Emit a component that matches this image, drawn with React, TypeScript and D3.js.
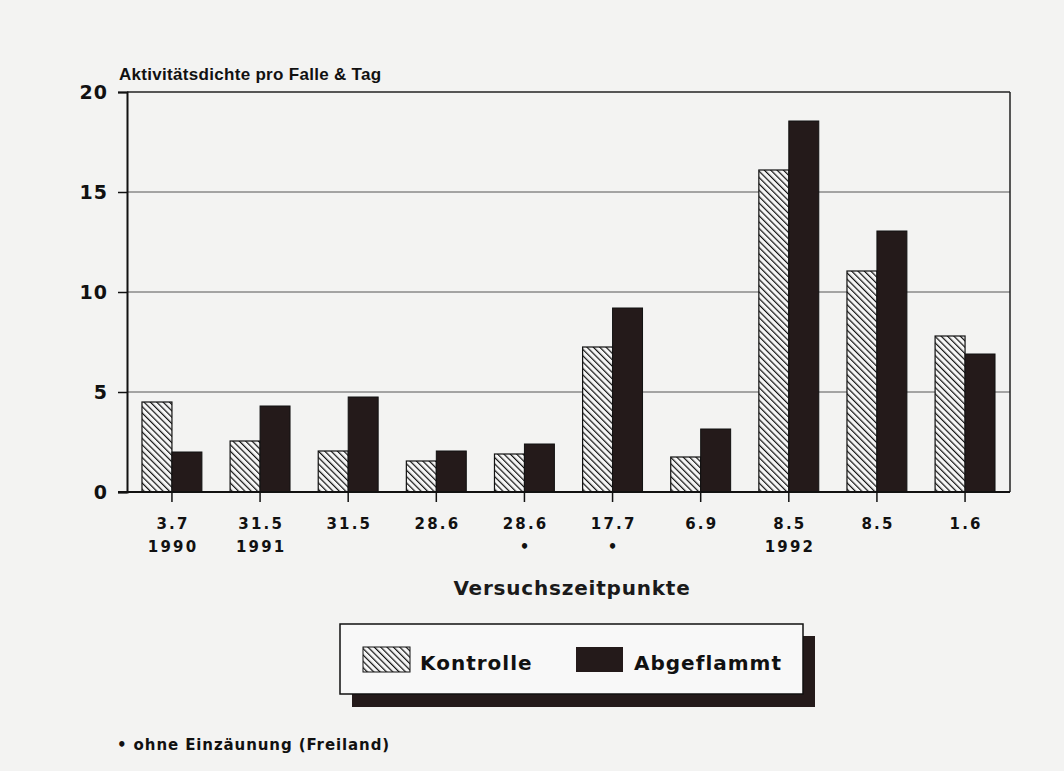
import { useRef, useEffect } from 'react';
import * as d3 from 'd3';

const dates = ['3.7', '31.5', '31.5', '28.6', '28.6', '17.7', '6.9', '8.5', '8.5', '1.6'];
const subLabels = ['1990', '1991', '', '', '•', '•', '', '1992', '', ''];
const kontrolle = [4.5, 2.55, 2.05, 1.55, 1.9, 7.25, 1.75, 16.1, 11.05, 7.8];
const abgeflammt = [2.0, 4.3, 4.75, 2.05, 2.4, 9.2, 3.15, 18.55, 13.05, 6.9];
const yTicks = [0, 5, 10, 15, 20];

const W = 1064;
const H = 771;
const DARK = '#241a1a';
const FONT = '"Liberation Sans", Arial, sans-serif';
const WIDE = '"DejaVu Sans", Verdana, sans-serif';

export default function App() {
  const svgRef = useRef<SVGSVGElement>(null);

  useEffect(() => {
    document.body.style.margin = '0';
    if (!svgRef.current) return;
    const svg = d3.select(svgRef.current);
    svg.selectAll('*').remove();

    const left = 127, right = 1010, top = 92, bottom = 492;

    const x = d3.scaleBand<number>()
      .domain(d3.range(dates.length))
      .range([left, right])
      .paddingInner(0.32)
      .paddingOuter(0.17);
    const y = d3.scaleLinear().domain([0, 20]).range([bottom, top]);
    const sub = d3.scaleBand<string>().domain(['k', 'a']).range([0, x.bandwidth()]);

    svg.append('rect').attr('width', W).attr('height', H).attr('fill', '#f3f3f2');

    const defs = svg.append('defs');
    const pat = defs.append('pattern')
      .attr('id', 'hatch')
      .attr('patternUnits', 'userSpaceOnUse')
      .attr('width', 4.5)
      .attr('height', 4.5)
      .attr('patternTransform', 'rotate(-45)');
    pat.append('rect').attr('width', 4.5).attr('height', 4.5).attr('fill', '#f6f6f6');
    pat.append('line')
      .attr('x1', 0).attr('y1', 0).attr('x2', 0).attr('y2', 4.5)
      .attr('stroke', '#111').attr('stroke-width', 2.4);

    // title
    svg.append('text')
      .attr('x', 119).attr('y', 80)
      .attr('font-family', FONT).attr('font-weight', 'bold').attr('font-size', 17)
      .attr('letter-spacing', 0.3)
      .attr('fill', '#111')
      .text('Aktivitätsdichte pro Falle & Tag');

    // gridlines
    svg.append('g')
      .selectAll('line')
      .data(yTicks.filter((t) => t > 0 && t < 20))
      .join('line')
      .attr('x1', left).attr('x2', right)
      .attr('y1', (d) => y(d)).attr('y2', (d) => y(d))
      .attr('stroke', '#555').attr('stroke-width', 1);

    // frame top/right
    svg.append('line').attr('x1', left).attr('x2', right).attr('y1', top).attr('y2', top)
      .attr('stroke', '#222').attr('stroke-width', 1.5);
    svg.append('line').attr('x1', right).attr('x2', right).attr('y1', top).attr('y2', bottom)
      .attr('stroke', '#222').attr('stroke-width', 1.5);

    // y axis
    const yAxis = svg.append('g')
      .attr('transform', `translate(${left},0)`)
      .call(d3.axisLeft(y).tickValues(yTicks).tickSize(9).tickPadding(10).tickFormat(d3.format('d')));
    yAxis.select('.domain').attr('stroke', '#111').attr('stroke-width', 2);
    yAxis.selectAll('line').attr('stroke', '#111').attr('stroke-width', 1.5);
    yAxis.selectAll('text')
      .attr('font-family', WIDE).attr('font-weight', 'bold').attr('font-size', 19)
      .attr('letter-spacing', 1).attr('fill', '#111');

    // bars
    const groups = svg.append('g')
      .selectAll('g')
      .data(dates.map((_, i) => i))
      .join('g')
      .attr('transform', (i) => `translate(${x(i)},0)`);
    groups.append('rect')
      .attr('x', sub('k')!)
      .attr('y', (i) => y(kontrolle[i]))
      .attr('width', sub.bandwidth())
      .attr('height', (i) => bottom - y(kontrolle[i]))
      .attr('fill', 'url(#hatch)')
      .attr('stroke', '#111').attr('stroke-width', 1.2);
    groups.append('rect')
      .attr('x', sub('a')!)
      .attr('y', (i) => y(abgeflammt[i]))
      .attr('width', sub.bandwidth())
      .attr('height', (i) => bottom - y(abgeflammt[i]))
      .attr('fill', DARK)
      .attr('stroke', '#111').attr('stroke-width', 1);

    // x axis
    const xAxis = svg.append('g')
      .attr('transform', `translate(0,${bottom})`)
      .call(d3.axisBottom(x).tickSize(10).tickFormat(() => ''));
    xAxis.select('.domain').attr('stroke', '#111').attr('stroke-width', 2)
      .attr('d', `M${left - 9},0H${right}`);
    xAxis.selectAll('line').attr('stroke', '#111').attr('stroke-width', 1.5);

    const labels = svg.append('g')
      .attr('font-family', WIDE).attr('font-weight', 'bold').attr('font-size', 15)
      .attr('letter-spacing', 2.2)
      .attr('fill', '#111').attr('text-anchor', 'middle');
    labels.selectAll('text.d')
      .data(dates)
      .join('text')
      .attr('class', 'd')
      .attr('x', (_, i) => x(i)! + x.bandwidth() / 2 + 1.1)
      .attr('y', 529)
      .text((d) => d);
    labels.selectAll('text.s')
      .data(subLabels)
      .join('text')
      .attr('class', 's')
      .attr('x', (_, i) => x(i)! + x.bandwidth() / 2 + 1.1)
      .attr('y', 552)
      .text((d) => d);

    svg.append('text')
      .attr('x', 572).attr('y', 595)
      .attr('text-anchor', 'middle')
      .attr('font-family', WIDE).attr('font-weight', 'bold').attr('font-size', 20)
      .attr('letter-spacing', 0.8)
      .attr('fill', '#1a1a1a')
      .text('Versuchszeitpunkte');

    // legend
    const lg = svg.append('g');
    lg.append('rect').attr('x', 352).attr('y', 636).attr('width', 463).attr('height', 71).attr('fill', DARK);
    lg.append('rect').attr('x', 340).attr('y', 624).attr('width', 463).attr('height', 70)
      .attr('fill', '#f8f8f8').attr('stroke', '#111').attr('stroke-width', 1.5);
    lg.append('rect').attr('x', 363).attr('y', 647).attr('width', 47).attr('height', 25)
      .attr('fill', 'url(#hatch)').attr('stroke', '#111').attr('stroke-width', 1);
    lg.append('text').attr('x', 420).attr('y', 670)
      .attr('font-family', WIDE).attr('font-weight', 'bold').attr('font-size', 20)
      .attr('letter-spacing', 1).attr('fill', '#111').text('Kontrolle');
    lg.append('rect').attr('x', 576).attr('y', 647).attr('width', 47).attr('height', 25).attr('fill', DARK);
    lg.append('text').attr('x', 634).attr('y', 670)
      .attr('font-family', WIDE).attr('font-weight', 'bold').attr('font-size', 20)
      .attr('letter-spacing', 1).attr('fill', '#111').text('Abgeflammt');

    // footnote
    svg.append('text')
      .attr('x', 117).attr('y', 750)
      .attr('font-family', WIDE).attr('font-weight', 'bold').attr('font-size', 15)
      .attr('letter-spacing', 0.9)
      .attr('fill', '#111')
      .text('• ohne Einzäunung (Freiland)');
  }, []);

  return <svg ref={svgRef} width={W} height={H} style={{ display: 'block' }} />;
}
